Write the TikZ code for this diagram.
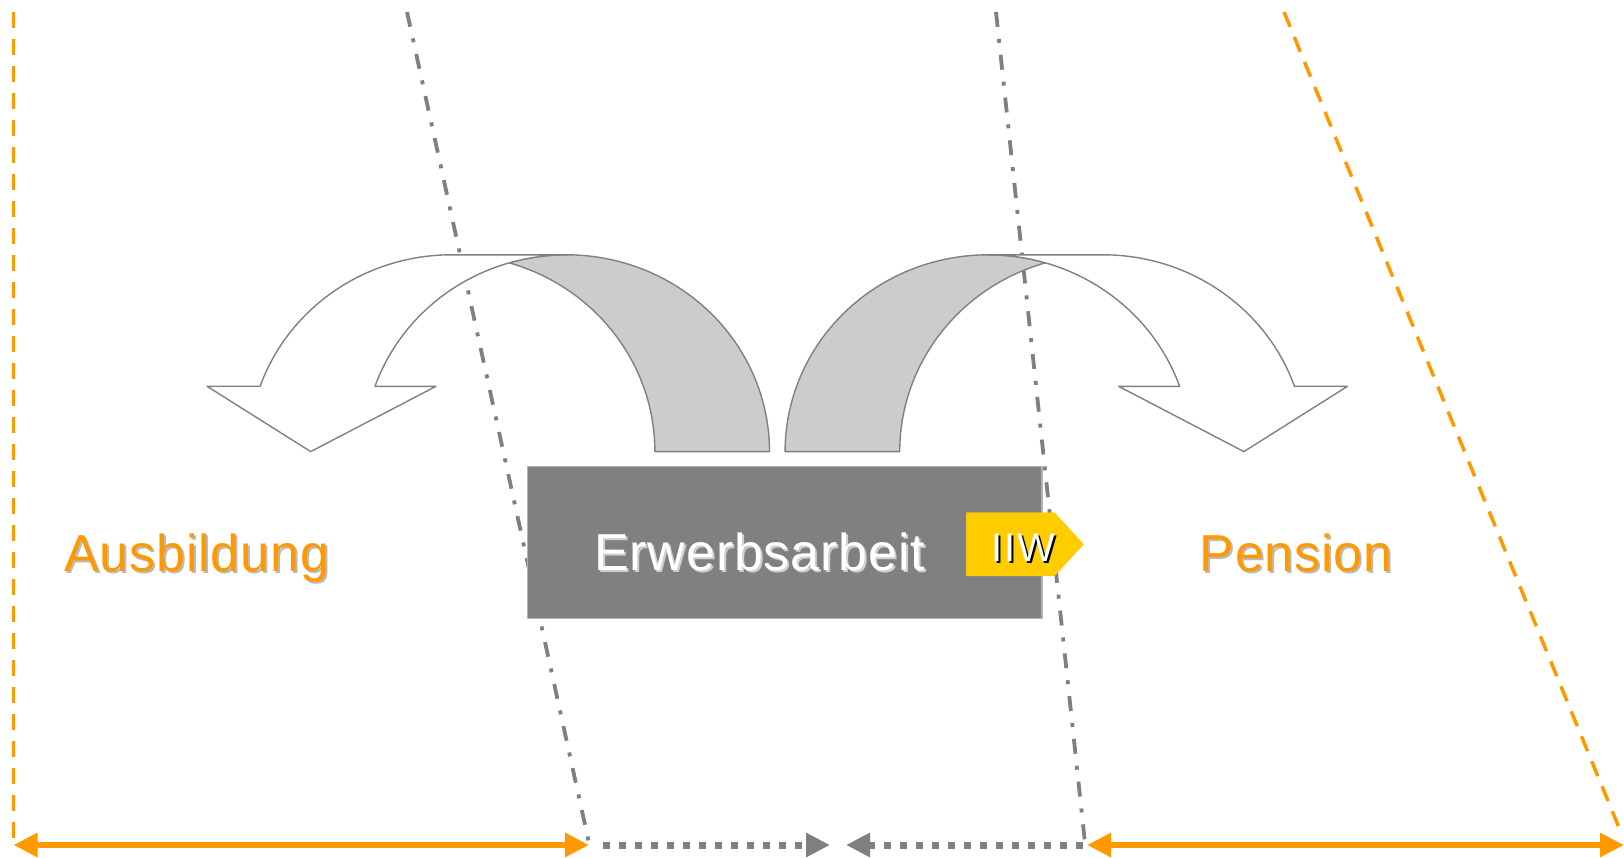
\documentclass[tikz,border=0pt]{standalone}
\usepackage{fontspec}
\setmainfont{Liberation Sans}
\usetikzlibrary{arrows.meta}
\definecolor{orng}{HTML}{FF9900}
\definecolor{grey}{HTML}{808080}
\definecolor{lightgrey}{HTML}{CCCCCC}
\definecolor{shadowgrey}{HTML}{BBBBBB}
\definecolor{yel}{HTML}{FFCC00}
\newcommand{\myuarrow}{%
  \filldraw[arrowline, fill=lightgrey] (769.5,451.6)
     arc[start angle=0, end angle=-106.4, x radius=203, y radius=196.8]
     arc[start angle=-73.6, end angle=0, x radius=203, y radius=196.8] -- cycle;
  \filldraw[arrowline, fill=white] (566.5,254.8) -- (451.6,254.8)
     arc[start angle=-90, end angle=-160.6, x radius=203, y radius=196.8]
     -- (207.1,386.3) -- (310.7,451.6) -- (436,386.3) -- (375,386.3)
     arc[start angle=-160.6, end angle=-90, x radius=203, y radius=196.8] -- cycle;
}
\begin{document}
\begin{tikzpicture}[x=1pt,y=-1pt,
  orangedash/.style={orng, line width=3.5pt, dash pattern=on 16pt off 11pt},
  greydashdot/.style={grey, line width=3.8pt, dash pattern=on 15pt off 12pt on 4pt off 12pt},
  orangearrow/.style={orng, line width=6.7pt, {Triangle[length=24pt,width=23pt]}-{Triangle[length=24pt,width=23pt]}},
  greydotted/.style={grey, line width=7pt, dash pattern=on 6.7pt off 9.3pt, -{Triangle[length=24pt,width=23pt]}},
  arrowline/.style={draw=grey, line width=1.4pt, line join=round},
  bigtext/.style={inner sep=0pt, font=\fontsize{52pt}{60pt}\selectfont\addfontfeatures{LetterSpace=1.6}},
  tagtext/.style={inner sep=0pt, font=\fontsize{40pt}{48pt}\selectfont\addfontfeatures{LetterSpace=5}}]
\useasboundingbox (0,0) rectangle (1624,857);
% coordinates
\coordinate (oLt) at (13.5,12);
\coordinate (oLb) at (13.5,840);
\coordinate (oRt) at (1284,12);
\coordinate (oRb) at (1622,835);
\coordinate (gLt) at (407,12);
\coordinate (gLb) at (589,843);
\coordinate (gRt) at (996,12);
\coordinate (gRb) at (1085,843);
\coordinate (a1s) at (13.5,845);
\coordinate (a1e) at (589,845);
\coordinate (a2s) at (603,845);
\coordinate (a2e) at (830,845);
\coordinate (a3s) at (1083,845);
\coordinate (a3e) at (846,845);
\coordinate (a4s) at (1087,845);
\coordinate (a4e) at (1624,845);
% boundary lines
\draw[orangedash] (oLt) -- (oLb);
\draw[orangedash] (oRt) -- (oRb);
\draw[greydashdot] (gLt) -- (gLb);
\draw[greydashdot] (gRt) -- (gRb);
% time arrows
\draw[orangearrow] (a1s) -- (a1e);
\draw[greydotted] (a2s) -- (a2e);
\draw[greydotted] (a3s) -- (a3e);
\draw[orangearrow] (a4s) -- (a4e);
% curved arrows
\myuarrow
\begin{scope}[shift={(1554.6,0)}, xscale=-1]
\myuarrow
\end{scope}
% work box
\node[draw=grey!60, line width=1.2pt, fill=grey, minimum width=514.7pt, minimum height=152.2pt, inner sep=0pt] (work) at (784.55,542.2) {};
% IIW tag
\filldraw[yel] (966.3,512.7) -- (1054.4,512.7) -- (1083.4,544.3) -- (1054.4,575.8) -- (966.3,575.8) -- cycle;
% texts
\node[bigtext, shadowgrey, anchor=base west] (ausbS) at (66.2,573.7) {Ausbildung};
\node[bigtext, orng, anchor=base west] (ausb) at (64.2,571.7) {Ausbildung};
\node[bigtext, shadowgrey, anchor=base west] (pensS) at (1201.5,573.7) {Pension};
\node[bigtext, orng, anchor=base west] (pens) at (1199.5,571.7) {Pension};
\node[bigtext, shadowgrey!70, anchor=base] (workS) at (761.7,572.7) {Erwerbsarbeit};
\node[bigtext, white, anchor=base] (workT) at (759.7,570.7) {Erwerbsarbeit};
\node[tagtext, black, anchor=base] (iiwS) at (1025,563.7) {IIW};
\node[tagtext, white, anchor=base] (iiw) at (1023,561.7) {IIW};
\end{tikzpicture}
\end{document}
